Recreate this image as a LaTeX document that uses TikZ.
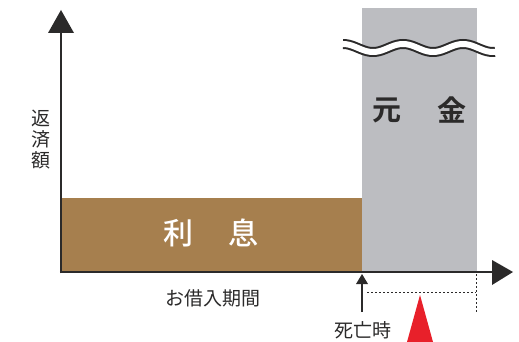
\documentclass[tikz,border=0pt]{standalone}
\usepackage{fontspec}
\newfontfamily\jp{Noto Sans CJK JP}
\newfontfamily\jpb{Noto Sans CJK JP Bold}
\newfontfamily\jpm{Noto Sans CJK JP Medium}
\usetikzlibrary{arrows.meta}
\definecolor{brownc}{HTML}{A67F4E}
\definecolor{grayc}{HTML}{BCBDC1}
\definecolor{txt}{HTML}{2B2A2A}
\definecolor{redc}{HTML}{E8202A}
\tikzset{
  lbl/.style={font=\jp\fontsize{19}{19}\selectfont, text=txt, inner sep=0pt},
  big/.style={font=\jpb\fontsize{29}{29}\selectfont, inner sep=0pt},
  bigm/.style={font=\jpm\fontsize{30}{30}\selectfont, inner sep=0pt},
  axis/.style={line width=2.5pt, draw=txt},
  dotl/.style={line width=1pt, dash pattern=on 2pt off 2pt, draw=txt},
}
\begin{document}
\begin{tikzpicture}[x=1pt,y=-1pt]
\useasboundingbox (0,0) rectangle (519,342);
% bars
\fill[grayc] (362,8) rectangle (477,272);
\fill[brownc] (61,198) rectangle (362,272);
% wave
\draw[line width=10pt, txt] plot[domain=343:495, samples=120] (\x, {48-4*cos((\x-343)*6)});
\draw[line width=6pt, white] plot[domain=340:498, samples=120] (\x, {48-4*cos((\x-343)*6)});
% texts
\node[big, text=txt] (gan) at (387,110) {元};
\node[big, text=txt] (kin) at (452,110) {金};
\node[bigm, text=white] (ri) at (178,233) {利};
\node[bigm, text=white] (soku) at (243,233) {息};
\node[lbl, align=center] (hensai) at (41,140) {返\\[2pt]済\\[2pt]額};
\node[lbl] (kikan) at (213,298) {お借入期間};
\node[lbl] (shibou) at (363,330) {死亡時};
% axes
\coordinate (o) at (61,272);
\coordinate (ytop) at (61,32);
\coordinate (xend) at (493,272);
\draw[axis] (61,273.25) -- (ytop);
\draw[axis] (59.75,272) -- (xend);
\fill[txt] (61,10) -- (48,33) -- (74,33) -- cycle;
\fill[txt] (513,272) -- (492,260) -- (492,285) -- cycle;
% death arrow
\coordinate (dbot) at (362,312);
\coordinate (dtop) at (362,284);
\draw[line width=2pt, txt] (dbot) -- (dtop);
\fill[txt] (362,274) -- (356,284) -- (368,284) -- cycle;
% dotted
\coordinate (d1) at (367,292);
\coordinate (d2) at (476,292);
\coordinate (d3) at (476,274);
\coordinate (d4) at (476,312);
\draw[dotl] (d1) -- (d2);
\draw[dotl] (d3) -- (d4);
% red triangle
\fill[redc] (420,295) -- (407,342) -- (433,342) -- cycle;
\end{tikzpicture}
\end{document}
